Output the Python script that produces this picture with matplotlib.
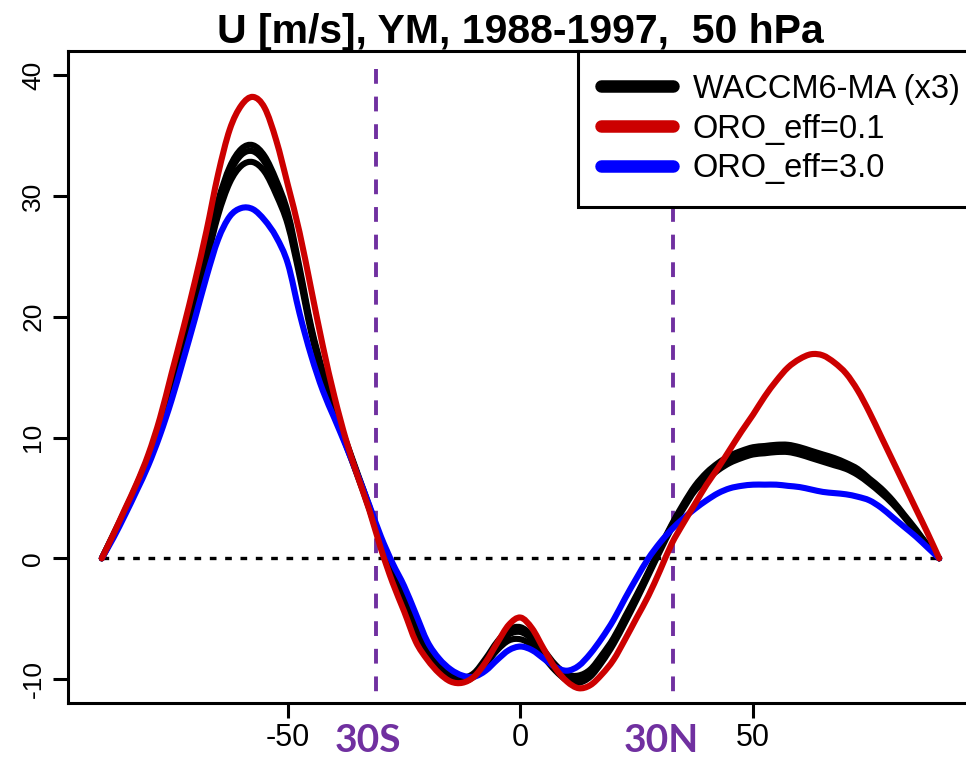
import numpy as np
import matplotlib
matplotlib.use("Agg")
import matplotlib.pyplot as plt
from matplotlib.lines import Line2D
from matplotlib.path import Path
from matplotlib.patches import PathPatch

# ---------------- data ----------------
lat = np.arange(-90, 90.1, 2.5)

waccm_1 = [0.0, 2.0, 4.0, 6.1, 8.4, 11.2, 14.5, 18.2, 21.8, 25.7, 29.6, 32.4, 33.9, 34.2, 33.3, 31.3,
           28.6, 24.1, 19.2, 15.5, 12.4, 9.7, 7.0, 4.3, 1.3, -1.0, -3.3, -5.7, -7.5, -8.9, -9.7, -9.9,
           -9.5, -8.3, -6.9, -5.9, -5.7, -6.4, -7.6, -8.8, -9.6, -9.7, -9.2, -8.0, -6.6, -4.8, -3.0, -1.1,
           0.9, 2.8, 4.5, 6.0, 7.1, 7.9, 8.5, 8.9, 9.2, 9.3, 9.4, 9.4, 9.2, 8.9, 8.6, 8.3,
           7.9, 7.4, 6.6, 5.8, 4.8, 3.6, 2.4, 1.1, 0.0]
waccm_2 = [0.0, 1.9, 3.9, 6.0, 8.2, 11.0, 14.3, 17.9, 21.5, 25.3, 29.2, 31.9, 33.4, 33.7, 32.8, 30.8,
           28.2, 23.8, 19.0, 15.3, 12.3, 9.6, 6.9, 4.2, 1.3, -1.0, -3.3, -5.7, -7.6, -9.0, -9.8, -10.0,
           -9.6, -8.5, -7.2, -6.3, -6.1, -6.7, -7.8, -9.0, -9.8, -10.0, -9.5, -8.3, -6.8, -5.0, -3.1, -1.2,
           0.8, 2.7, 4.3, 5.8, 6.8, 7.6, 8.2, 8.6, 8.9, 9.0, 9.1, 9.1, 8.9, 8.6, 8.3, 8.0,
           7.6, 7.1, 6.4, 5.6, 4.7, 3.5, 2.3, 1.1, 0.0]
waccm_3 = [0.0, 1.9, 3.8, 5.8, 8.0, 10.7, 13.9, 17.4, 20.9, 24.6, 28.4, 31.1, 32.5, 32.8, 32.0, 30.1,
           27.6, 23.4, 18.7, 15.0, 12.1, 9.4, 6.8, 4.1, 1.2, -1.2, -3.5, -5.9, -7.8, -9.2, -10.0, -10.2,
           -9.8, -8.8, -7.6, -6.8, -6.7, -7.2, -8.2, -9.3, -10.1, -10.3, -9.8, -8.6, -7.1, -5.3, -3.4, -1.4,
           0.6, 2.5, 4.1, 5.6, 6.5, 7.3, 7.9, 8.3, 8.6, 8.7, 8.8, 8.8, 8.6, 8.3, 8.0, 7.7,
           7.4, 6.9, 6.2, 5.4, 4.5, 3.4, 2.2, 1.1, 0.0]
oro_01 = [0.0, 2.0, 4.1, 6.2, 8.6, 11.6, 15.3, 19.0, 22.9, 27.1, 31.8, 35.5, 37.5, 38.2, 37.3, 34.6,
          30.9, 27.0, 22.3, 17.6, 13.4, 9.8, 6.8, 4.0, 0.8, -2.0, -4.4, -6.9, -8.4, -9.5, -10.2, -10.3,
          -9.8, -8.6, -7.0, -5.5, -4.9, -5.8, -7.5, -9.1, -10.2, -10.75, -10.5, -9.6, -8.4, -6.7, -4.9, -3.1,
          -1.0, 1.2, 2.9, 4.5, 6.1, 7.5, 9.0, 10.5, 11.9, 13.4, 14.7, 15.8, 16.5, 16.9, 16.8, 16.2,
          15.3, 13.9, 12.1, 10.1, 8.1, 6.1, 4.1, 2.1, 0.0]
oro_30 = [0.0, 1.7, 3.6, 5.6, 7.7, 10.2, 13.1, 16.4, 19.8, 23.3, 26.4, 28.3, 29.0, 28.9, 28.0, 26.6,
          24.4, 20.3, 16.8, 13.9, 11.6, 9.3, 6.9, 4.4, 1.8, -0.4, -2.3, -4.6, -6.9, -8.3, -9.2, -9.7,
          -9.8, -9.3, -8.4, -7.6, -7.3, -7.6, -8.3, -9.0, -9.3, -8.9, -7.9, -6.6, -5.1, -3.3, -1.6, 0.0,
          1.3, 2.4, 3.3, 4.1, 4.8, 5.4, 5.8, 6.0, 6.1, 6.1, 6.1, 6.0, 5.9, 5.7, 5.5, 5.4,
          5.3, 5.1, 4.8, 4.2, 3.4, 2.6, 1.8, 0.9, 0.0]

labels = ["WACCM6-MA (x3)", "ORO_eff=0.1", "ORO_eff=3.0"]
title = "U [m/s], YM, 1988-1997,  50 hPa"
xticks = [-50, 0, 50]
yticks = [-10, 0, 10, 20, 30, 40]
lat_marks = [-31.1, 32.8]
lat_mark_labels = ["30S", "30N"]

# ---------------- style ----------------
black = "#000000"
red = "#CC0000"
blue = "#0000FF"
purple = "#7030A0"


def smooth_path(x, y):
    """Bezier path passing through every data point (Catmull-Rom tangents)."""
    p = np.column_stack([np.asarray(x, float), np.asarray(y, float)])
    n = len(p)
    verts = [p[0]]
    codes = [Path.MOVETO]
    for i in range(n - 1):
        p0 = p[i - 1] if i > 0 else p[i]
        p1, p2 = p[i], p[i + 1]
        p3 = p[i + 2] if i + 2 < n else p[i + 1]
        c1 = p1 + (p2 - p0) / 6.0
        c2 = p2 - (p3 - p1) / 6.0
        verts += [c1, c2, p2]
        codes += [Path.CURVE4] * 3
    return Path(np.array(verts), codes)


def draw_curve(ax, x, y, color, lw, z):
    ax.add_patch(PathPatch(smooth_path(x, y), fill=False, edgecolor=color, lw=lw,
                           capstyle="round", joinstyle="round", zorder=z))


fig = plt.figure(figsize=(9.66, 7.6), dpi=100)
ax = fig.add_axes([0.0707, 0.0746, 0.9362, 0.8583])
ax.set_xlim(-97.2, 97.2)
ax.set_ylim(-12, 42)

for s in ax.spines.values():
    s.set_linewidth(2.2)

# zero line
ax.plot([lat[0], lat[-1]], [0, 0], color="black", lw=2.4, ls=(0, (2.0, 2.6)), zorder=1)

# vertical purple dashed (drawn top to bottom so the pattern starts at the top)
for xm in lat_marks:
    ax.plot([xm, xm], [40.5, -12], color=purple, lw=2.8, ls=(0, (3.8, 3.3)), zorder=1.5,
            clip_on=False)

for w in (waccm_1, waccm_2, waccm_3):
    draw_curve(ax, lat, w, black, 4.4, 2)
draw_curve(ax, lat, oro_30, blue, 4.4, 3)
draw_curve(ax, lat, oro_01, red, 4.4, 4)

ax.set_xticks(xticks)
ax.set_yticks(yticks)
ax.set_xticklabels([str(t) for t in xticks], family=["Liberation Sans Narrow", "Liberation Sans"],
                   fontsize=22)
ax.set_yticklabels([str(t) for t in yticks], family=["Liberation Sans"], fontsize=19,
                   rotation=90, va="center")
ax.tick_params(axis="both", direction="out", length=10.5, width=2.2)
ax.tick_params(axis="x", pad=4)
ax.tick_params(axis="y", pad=6)

ax.set_title(title, fontsize=29.5, fontweight="bold", family=["Liberation Sans"], pad=6)

handles = [Line2D([], [], color=c, lw=9, solid_capstyle="round") for c in (black, red, blue)]
leg = ax.legend(handles, labels, loc="upper left", bbox_to_anchor=(0.5636, 1.0), borderaxespad=0,
                prop={"family": "Liberation Sans", "size": 23.5}, handlelength=2.2,
                handletextpad=0.62, borderpad=0.7, labelspacing=0.27, fancybox=False,
                framealpha=1, edgecolor="black")
leg.get_frame().set_linewidth(2.2)
leg.set_zorder(10)

for xm, txt in zip(lat_marks, lat_mark_labels):
    xd = ax.transData.transform((xm, 0))[0]
    xf = fig.transFigure.inverted().transform((xd - 8 if xm < 0 else xd - 12, 0))[0]
    fig.text(xf, 1 - 741 / 760, txt, color=purple, fontsize=28, fontweight="bold",
             family=["Lato", "DejaVu Sans"], ha="center", va="center")

fig.savefig("out.png", dpi=100)
